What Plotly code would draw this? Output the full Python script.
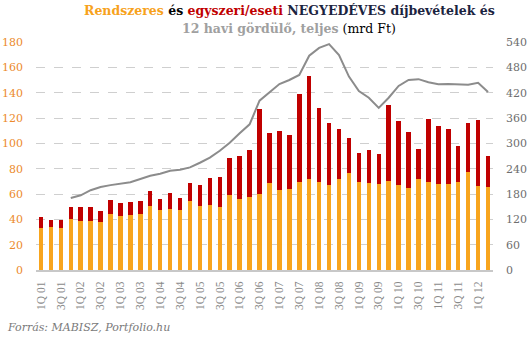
import plotly.graph_objects as go

# Quarter labels 1Q 01 ... 2Q 12
quarters = [f"{q}Q {y:02d}" for y in range(1, 13) for q in range(1, 5)][:46]
tick_labels = [q for q in quarters if q.startswith("1Q") or q.startswith("3Q")]

# Quarterly premium income, bn HUF
regular = [33.2, 34.0, 33.2, 40.3, 38.7, 38.7, 37.9, 44.2, 42.6, 43.4,
           44.2, 50.5, 47.4, 48.2, 47.4, 54.5, 50.5, 51.3, 49.7, 59.2,
           56.1, 57.6, 60.0, 68.7, 63.2, 63.9, 69.5, 71.8, 69.5, 67.1,
           71.8, 76.6, 69.5, 68.7, 67.9, 70.3, 67.1, 64.7, 71.8, 69.5,
           67.9, 67.9, 69.5, 77.4, 66.3, 65.5]
single = [8.6, 5.5, 6.3, 9.4, 11.0, 11.0, 8.7, 11.1, 10.3, 10.3,
          10.3, 11.9, 8.7, 12.6, 9.4, 14.2, 16.6, 21.3, 23.7, 29.2,
          33.9, 37.1, 67.1, 39.5, 46.5, 42.7, 69.4, 81.4, 58.4, 48.9,
          39.5, 27.6, 22.9, 26.0, 23.7, 60.0, 50.5, 44.2, 23.7, 49.7,
          45.8, 43.4, 28.4, 38.6, 52.1, 24.5]
# 12-month rolling total, bn HUF (right axis)
rolling = [None, None, None, 170.5, 177, 189, 196.6, 201, 205, 208,
           215.5, 223, 228, 235, 237.6, 243, 254, 266, 282.5, 301.5,
           323.7, 345, 401, 420, 440.5, 450, 462, 507.5, 526, 535,
           509, 458, 424, 408, 384, 408, 436, 450, 452, 444.5,
           440, 440.5, 440.5, 439, 443.5, 421.5]

ORANGE = "#F8A51D"
RED = "#C00000"
GREY_LINE = "#8C8C8C"
SERIF = "DejaVu Serif"

fig = go.Figure()
fig.add_trace(go.Bar(x=quarters, y=regular, marker_color=ORANGE,
                     marker_line_width=0, name="Rendszeres"))
fig.add_trace(go.Bar(x=quarters, y=single, marker_color=RED,
                     marker_line_width=0, name="egyszeri/eseti"))
fig.add_trace(go.Scatter(x=quarters, y=rolling, mode="lines", yaxis="y2",
                         line=dict(color=GREY_LINE, width=2),
                         name="12 havi gördülő"))

title_line1 = (
    '<b><span style="color:#F7A21C">Rendszeres</span> '
    '<span style="color:#000000">és</span> '
    '<span style="color:#C00000">egyszeri/eseti</span> '
    '<span style="color:#1B2440">NEGYEDÉVES díjbevételek és</span></b>'
)
title_line2 = (
    '<b><span style="color:#A0A0A0">12 havi gördülő, teljes</span></b> '
    '<span style="color:#000000">(mrd Ft)</span>'
)

PLOT_W, PLOT_H = 457, 228
title_x = (289 - 36) / PLOT_W

fig.update_layout(
    width=531, height=342,
    margin=dict(l=36, r=38, t=42, b=72),
    barmode="stack", bargap=0.55,
    showlegend=False,
    plot_bgcolor="white", paper_bgcolor="white",
    font=dict(family=SERIF),
    xaxis=dict(
        type="category", tickmode="array", tickvals=tick_labels,
        ticktext=tick_labels, tickangle=-90, automargin=False,
        tickfont=dict(family="Liberation Serif", size=11.5, color="#8A8A8A"),
        showline=True, linecolor="#C8C8C8", linewidth=2,
        showgrid=False, ticks="", ticklabelstandoff=5,
    ),
    yaxis=dict(
        range=[0, 180], dtick=20, showgrid=True, gridcolor="#CFCFCF",
        griddash="dash", gridwidth=1, zeroline=False, automargin=False,
        tickfont=dict(family=SERIF, size=11, color="#EC8A2C"),
        ticklabelstandoff=12,
    ),
    yaxis2=dict(
        range=[0, 540], dtick=60, overlaying="y", side="right",
        showgrid=False, zeroline=False, automargin=False,
        tickfont=dict(family=SERIF, size=11, color="#6E6E6E"),
        ticklabelstandoff=12,
    ),
    annotations=[
        dict(text=title_line1, xref="paper", yref="paper",
             x=title_x, y=1 + 31 / PLOT_H, xanchor="center", yanchor="middle",
             showarrow=False, font=dict(family=SERIF, size=12.5)),
        dict(text=title_line2, xref="paper", yref="paper",
             x=title_x, y=1 + 14 / PLOT_H, xanchor="center", yanchor="middle",
             showarrow=False, font=dict(family=SERIF, size=12.5)),
        dict(text="<i>Forrás: MABISZ, Portfolio.hu</i>", xref="paper",
             yref="paper", x=-31 / PLOT_W, y=-57 / PLOT_H,
             xanchor="left", yanchor="middle", showarrow=False,
             font=dict(family=SERIF, size=11, color="#7A7A7A")),
    ],
)

fig.write_html("out.html")
